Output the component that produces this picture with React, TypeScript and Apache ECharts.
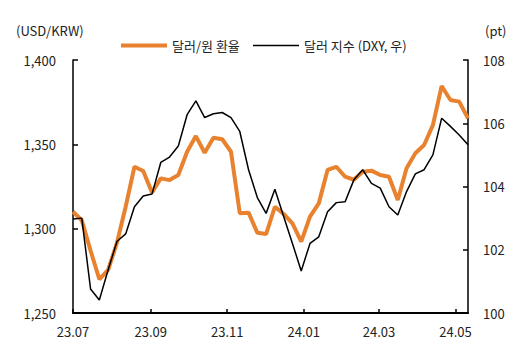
import React, { useEffect, useRef } from "react";
import * as echarts from "echarts";

const dates: string[] = [
  "2023-07-01", "2023-07-08", "2023-07-15", "2023-07-22", "2023-07-29",
  "2023-08-05", "2023-08-12", "2023-08-19", "2023-08-26",
  "2023-09-02", "2023-09-09", "2023-09-16", "2023-09-23", "2023-09-30",
  "2023-10-07", "2023-10-14", "2023-10-21", "2023-10-28",
  "2023-11-04", "2023-11-11", "2023-11-18", "2023-11-25",
  "2023-12-02", "2023-12-09", "2023-12-16", "2023-12-23", "2023-12-30",
  "2024-01-06", "2024-01-13", "2024-01-20", "2024-01-27",
  "2024-02-03", "2024-02-10", "2024-02-17", "2024-02-24",
  "2024-03-02", "2024-03-09", "2024-03-16", "2024-03-23", "2024-03-30",
  "2024-04-06", "2024-04-13", "2024-04-20", "2024-04-27",
  "2024-05-04", "2024-05-11",
];

const usdKrw: number[] = [
  1310, 1305, 1287, 1270, 1275.5, 1291.5, 1313, 1336.7, 1334.2, 1321.5,
  1329.8, 1328.8, 1331.8, 1345.6, 1354.9, 1345, 1353.9, 1353, 1345.6, 1309.1,
  1309.5, 1297.6, 1296.8, 1313, 1308.7, 1303.2, 1292.3, 1307.1, 1315, 1334.8,
  1336.7, 1330.8, 1329, 1333.8, 1334.4, 1331.8, 1330.8, 1317, 1335.8, 1344.7,
  1349.6, 1361.4, 1384.6, 1376.3, 1375.3, 1365.4,
];

const dxy: number[] = [
  102.97, 103.0, 100.76, 100.41, 101.36, 102.26, 102.5, 103.36, 103.7, 103.76,
  104.76, 104.93, 105.28, 106.27, 106.71, 106.18, 106.3, 106.34, 106.18, 105.74,
  104.53, 103.65, 103.15, 103.91, 103.05, 102.2, 101.33, 102.2, 102.41, 103.2,
  103.49, 103.52, 104.21, 104.53, 104.1, 103.95, 103.36, 103.1, 103.84, 104.4,
  104.53, 105.0, 106.16, 105.9, 105.63, 105.32,
];

const tickDates: string[] = ["2023-07-01", "2023-09-01", "2023-11-01", "2024-01-01", "2024-03-01", "2024-05-01"];
const tickLabels: string[] = ["23.07", "23.09", "23.11", "24.01", "24.03", "24.05"];

const seriesNames = ["달러/원 환율", "달러 지수 (DXY, 우)"];

function toTs(s: string): number {
  const [y, m, d] = s.split("-").map(Number);
  return Date.UTC(y, m - 1, d);
}

export default function App() {
  const ref = useRef<HTMLDivElement>(null);

  useEffect(() => {
    if (!ref.current) return;
    const chart = echarts.init(ref.current, null, { renderer: "svg" });
    const tickTs = tickDates.map(toTs);
    const font = "'Noto Sans CJK KR', 'Noto Sans', sans-serif";
    const axisColor = "#000";
    const orange = "#E8822F";

    const legendBase = {
      top: 34,
      itemWidth: 46,
      icon: "rect",
      textStyle: { fontSize: 13, color: "#222", fontFamily: font },
    };

    chart.setOption({
      animation: false,
      textStyle: { fontFamily: font },
      grid: { left: 73, right: 51, top: 60, bottom: 40, containLabel: false },
      legend: [
        { ...legendBase, left: 116, itemHeight: 4, data: [seriesNames[0]] },
        { ...legendBase, left: 248, itemHeight: 1.5, data: [seriesNames[1]] },
      ],
      graphic: [
        {
          type: "text",
          left: 16,
          top: 24,
          style: { text: "(USD/KRW)", fontSize: 13, fill: "#222", fontFamily: font },
        },
        {
          type: "text",
          left: 485,
          top: 24,
          style: { text: "(pt)", fontSize: 13, fill: "#222", fontFamily: font },
        },
      ],
      xAxis: {
        type: "value",
        min: toTs(dates[0]),
        max: toTs(dates[dates.length - 1]),
        axisLine: { show: true, lineStyle: { color: axisColor, width: 2 } },
        axisTick: {
          show: true,
          inside: true,
          length: 4,
          lineStyle: { color: axisColor, width: 1.5 },
          customValues: tickTs,
        },
        axisLabel: {
          customValues: tickTs,
          margin: 12,
          fontSize: 13,
          color: "#222",
          fontFamily: font,
          showMinLabel: true,
          showMaxLabel: true,
          formatter: (v: number) => {
            const i = tickTs.findIndex((t) => Math.abs(t - v) < 43200000);
            return i >= 0 ? tickLabels[i] : "";
          },
        },
        splitLine: { show: false },
      },
      yAxis: [
        {
          type: "value",
          min: 1250,
          max: 1400,
          interval: 50,
          position: "left",
          axisLine: { show: true, lineStyle: { color: axisColor, width: 1.5 } },
          axisTick: { show: true, inside: true, length: 5, lineStyle: { color: axisColor, width: 1.5 } },
          axisLabel: {
            margin: 17,
            fontSize: 13,
            color: "#222",
            fontFamily: font,
            formatter: (v: number) => v.toLocaleString("en-US"),
          },
          splitLine: { show: false },
        },
        {
          type: "value",
          min: 100,
          max: 108,
          interval: 2,
          position: "right",
          axisLine: { show: true, lineStyle: { color: axisColor, width: 1.5 } },
          axisTick: { show: true, inside: true, length: 5, lineStyle: { color: axisColor, width: 1.5 } },
          axisLabel: { margin: 15, fontSize: 13, color: "#222", fontFamily: font },
          splitLine: { show: false },
        },
      ],
      series: [
        {
          name: seriesNames[0],
          type: "line",
          yAxisIndex: 0,
          symbol: "none",
          data: dates.map((d, i) => [toTs(d), usdKrw[i]]),
          lineStyle: { color: orange, width: 4 },
          itemStyle: { color: orange },
          z: 2,
        },
        {
          name: seriesNames[1],
          type: "line",
          yAxisIndex: 1,
          symbol: "none",
          data: dates.map((d, i) => [toTs(d), dxy[i]]),
          lineStyle: { color: "#000", width: 1.5 },
          itemStyle: { color: "#000" },
          z: 3,
        },
      ],
    });

    return () => chart.dispose();
  }, []);

  return <div ref={ref} style={{ width: 519, height: 353, position: "absolute", left: 0, top: 0 }} />;
}
